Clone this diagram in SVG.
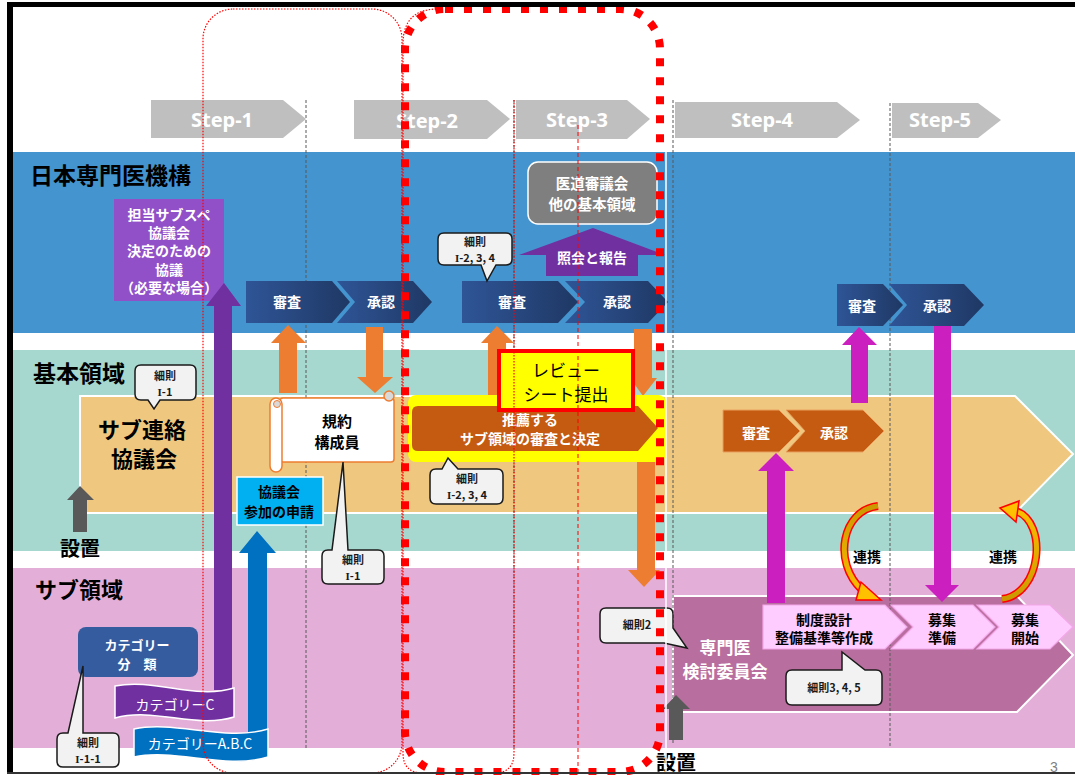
<svg xmlns="http://www.w3.org/2000/svg" width="1075" height="775" viewBox="0 0 1075 775">
<defs>
<linearGradient id="gb" x1="0" y1="0" x2="1" y2="0"><stop offset="0" stop-color="#2f5597"/><stop offset="1" stop-color="#1f3864"/></linearGradient>
<linearGradient id="gy1" gradientUnits="userSpaceOnUse" x1="0" y1="500" x2="0" y2="600"><stop offset="0" stop-color="#c89600"/><stop offset="1" stop-color="#ffc000"/></linearGradient>
<linearGradient id="gy2" gradientUnits="userSpaceOnUse" x1="0" y1="605" x2="0" y2="505"><stop offset="0" stop-color="#c89600"/><stop offset="1" stop-color="#ffc000"/></linearGradient>
<style>
.t{font-family:"Noto Sans CJK JP","Noto Sans",sans-serif;font-weight:700;text-anchor:middle}
.w{fill:#fff}.k{fill:#000}.d{fill:#1a1a1a}
.s{font-size:14px}.c{font-size:11px}
.rn{font-family:"Liberation Serif",serif;font-weight:700}
.step{fill:#bfbfbf}
.stxt{font-family:"Noto Sans","Open Sans",sans-serif;font-weight:700;font-size:20px;fill:#fff;text-anchor:middle}
.db{fill:url(#gb)}
.br{fill:#c55a11;stroke:#e8a060;stroke-width:1}
.pk{fill:#ffccff;stroke:#f3a6e8;stroke-width:1.2}
.co{fill:#f2f2f2;stroke:#1a1a1a;stroke-width:1.5}
.or{fill:#ed7d31}.mg{fill:#cc1fbf}
.gd{stroke:#595959;stroke-width:1;stroke-dasharray:3 2;fill:none}
</style>
</defs>
<rect x="0" y="0" width="1075" height="775" fill="#fff"/>
<g id="bands">
<rect x="13" y="152" width="1062" height="181" fill="#4494cf"/>
<rect x="13" y="350" width="1062" height="201" fill="#a6d8cf"/>
<rect x="13" y="568" width="1062" height="180" fill="#e3afd8"/>
<polygon points="80,396 1015,396 1073,454 1015,513 80,513" fill="#efc77f" stroke="#fff" stroke-width="2"/>
<polygon points="673,596 1017,596 1073,655 1017,712 673,712" fill="#b86e9e" stroke="#fff" stroke-width="2"/>
</g>
<g id="gridlines">
<line class="gd" x1="306" y1="100" x2="306" y2="748"/>
<line class="gd" x1="514" y1="100" x2="514" y2="748"/>
<line class="gd" x1="673" y1="100" x2="673" y2="745"/>
<line class="gd" x1="890" y1="103" x2="890" y2="748"/>
</g>
<g id="steps">
<polygon class="step" points="151,100 283,100 306,119 283,138 151,138"/>
<text class="stxt" x="222" y="127">Step-1</text>
<polygon class="step" points="354,100 487,100 510,119 487,139 354,139"/>
<text class="stxt" x="427" y="128">Step-2</text>
<polygon class="step" points="516,100 627,100 650,119 627,139 516,139"/>
<text class="stxt" x="577" y="127">Step-3</text>
<polygon class="step" points="675,102 837,102 860,120 837,138 675,138"/>
<text class="stxt" x="762" y="127">Step-4</text>
<polygon class="step" points="892,103 978,103 1001,120 978,138 892,138"/>
<text class="stxt" x="940" y="127">Step-5</text>
</g>
<g id="labels">
<text class="t k" x="30" y="184" style="text-anchor:start;font-size:23px">日本専門医機構</text>
<text class="t k" x="33" y="382" style="text-anchor:start;font-size:23px">基本領域</text>
<text class="t k" x="35" y="598" style="text-anchor:start;font-size:22px">サブ領域</text>
<text class="t k" x="80" y="556" style="font-size:20px">設置</text>
<text class="t k" x="676" y="770" style="font-size:20px">設置</text>
<text x="1050" y="772" style="font-family:'Liberation Sans',sans-serif;font-size:14px;fill:#7f7f7f">3</text>
</g>
<g id="node-sentei">
<rect x="114" y="199" width="110" height="102" fill="#9150c8"/>
<text class="t w s" x="169" y="220">担当サブスペ</text>
<text class="t w s" x="169" y="238">協議会</text>
<text class="t w s" x="169" y="256">決定のための</text>
<text class="t w s" x="169" y="275">協議</text>
<text class="t w s" x="169" y="293">（必要な場合）</text>
</g>
<g id="connectors">
<polygon fill="#7030a0" points="214,690 214,306 206,306 224,283 241,306 232,306 232,690"/>
<polygon fill="#0070c0" points="248,745 248,553 239,553 257,531 276,553 267,553 267,745"/>
<polygon class="or" points="279,393 279,343 271,343 288,325 306,343 297,343 297,393"/>
<polygon class="or" points="366,327 383,327 383,377 393,377 375,393 357,377 366,377"/>
<polygon class="or" points="488,400 488,343 481,343 497,326 514,343 506,343 506,400"/>
<polygon class="or" points="634,329 652,329 652,378 657,378 643,396 630,378 634,378"/>
<polygon class="or" points="637,455 655,455 655,570 660,570 644,587 628,570 637,570"/>
<polygon class="mg" points="767,603 767,471 758,471 776,453 794,471 785,471 785,603"/>
<polygon class="mg" points="851,403 851,345 842,345 859,327 877,345 868,345 868,403"/>
<polygon class="mg" points="934,326 951,326 951,585 959,585 942,602 925,585 934,585"/>
<polygon fill="#595959" points="73,532 73,500 67,500 80,486 94,500 87,500 87,532"/>
<polygon fill="#595959" points="669,740 669,709 663,709 676,695 690,709 683,709 683,740"/>
</g>
<g id="node-shinsa1"><polygon class="db" points="246,281 332,281 350,302 332,323 246,323"/><text class="t w s" x="287" y="307">審査</text></g>
<g id="node-shonin1"><polygon class="db" points="337,281 413,281 432,302 413,323 337,323 355,302"/><text class="t w s" x="381" y="307">承認</text></g>
<g id="node-shinsa2"><polygon class="db" points="462,281 558,281 578,302 558,323 462,323"/><text class="t w s" x="512" y="307">審査</text></g>
<g id="node-shonin2"><polygon class="db" points="565,281 648,281 668,302 648,323 565,323 585,302"/><text class="t w s" x="617" y="307">承認</text></g>
<g id="node-shinsa3"><polygon class="db" points="837,284 883,284 903,305 883,326 837,326"/><text class="t w s" x="862" y="311">審査</text></g>
<g id="node-shonin3"><polygon class="db" points="889,284 964,284 984,305 964,326 889,326 907,305"/><text class="t w s" x="937" y="311">承認</text></g>
<g id="node-idou">
<rect x="528" y="162" width="129" height="62" rx="10" fill="#7f7f7f" stroke="#fff" stroke-width="1.5"/>
<text class="t w" x="592" y="189" style="font-size:14.5px">医道審議会</text>
<text class="t w" x="592" y="210" style="font-size:14.5px">他の基本領域</text>
</g>
<g id="node-shokai">
<polygon fill="#7030a0" points="546,276 546,255 519,255 593,228 665,255 638,255 638,276"/>
<text class="t w s" x="592" y="263">照会と報告</text>
</g>
<g id="node-subrenraku">
<text class="t k" x="142" y="438" style="font-size:22px">サブ連絡</text>
<text class="t k" x="144" y="467" style="font-size:22px">協議会</text>
</g>
<g id="node-kiyaku">
<rect x="280" y="398" width="114" height="64" rx="3" fill="#fff" stroke="#ed7d31" stroke-width="1.5"/>
<path d="M270,404 a6,6 0 0 1 12,0 V466 a6,6 0 0 1 -12,0 Z" fill="#fff" stroke="#ed7d31" stroke-width="1.5"/>
<circle cx="277" cy="404" r="3.5" fill="#d9d9d9" stroke="#ed7d31" stroke-width="1"/>
<circle cx="389" cy="396" r="5" fill="#d9d9d9" stroke="#ed7d31" stroke-width="1.5"/>
<text class="t k" x="337" y="427" style="font-size:15px">規約</text>
<text class="t k" x="337" y="448" style="font-size:15px">構成員</text>
</g>
<g id="node-shinsei">
<rect x="237" y="477" width="86" height="48" fill="#00b0f0" stroke="#fff" stroke-width="1.5"/>
<text class="t k s" x="279" y="497">協議会</text>
<text class="t k s" x="279" y="517">参加の申請</text>
</g>
<g id="node-suisen">
<rect x="408" y="395" width="258" height="67" rx="8" fill="#ffff00"/>
<path d="M418,406 H638 L658,428 L638,451 H418 Q412,451 412,445 V412 Q412,406 418,406 Z" fill="#c55a11"/>
<text class="t w s" x="530" y="425">推薦する</text>
<text class="t w s" x="530" y="444">サブ領域の審査と決定</text>
</g>
<g id="node-review">
<rect x="499" y="351" width="134" height="59" fill="#ffff00" stroke="#ff0000" stroke-width="4"/>
<text class="t k" x="566" y="377" style="font-size:17px;font-weight:400">レビュー</text>
<text class="t k" x="566" y="401" style="font-size:17px;font-weight:400">シート提出</text>
</g>
<g id="node-shinsa4"><polygon class="br" points="723,410 779,410 800,431 779,452 723,452"/><text class="t w s" x="756" y="438">審査</text></g>
<g id="node-shonin4"><polygon class="br" points="786,410 863,410 884,431 863,452 786,452 805,431"/><text class="t w s" x="834" y="438">承認</text></g>
<g id="node-category">
<rect x="78" y="627" width="120" height="50" rx="8" fill="#355c9e"/>
<text class="t w" x="137" y="650" style="font-size:13px">カテゴリー</text>
<text class="t w" x="137" y="669" style="font-size:13px">分　類</text>
</g>
<g id="node-catC">
<path d="M115,686 C155,678 195,700 234,688 L234,717 C195,729 155,707 115,718 Z" fill="#7030a0" stroke="#fff" stroke-width="1.5"/>
<text class="t w" x="175" y="710" style="font-size:14px;font-weight:400">カテゴリーC</text>
</g>
<g id="node-catABC">
<path d="M134,729 C175,720 225,742 268,729 L268,757 C225,770 175,748 134,757 Z" fill="#0070c0" stroke="#fff" stroke-width="1.5"/>
<text class="t w" x="200" y="749" style="font-size:14px;font-weight:400">カテゴリーA.B.C</text>
</g>
<g id="node-senmon">
<text class="t w" x="725" y="654" style="font-size:17px">専門医</text>
<text class="t w" x="725" y="678" style="font-size:17px">検討委員会</text>
</g>
<g id="node-seido"><polygon class="pk" points="763,605 885,605 907,627 885,649 763,649"/><text class="t k s" x="824" y="625">制度設計</text><text class="t k s" x="824" y="643">整備基準等作成</text></g>
<g id="node-junbi"><polygon class="pk" points="891,605 973,605 995,627 973,649 891,649 913,627"/><text class="t k s" x="942" y="625">募集</text><text class="t k s" x="942" y="643">準備</text></g>
<g id="node-kaishi"><polygon class="pk" points="977,605 1050,605 1073,627 1050,649 977,649 999,627"/><text class="t k s" x="1025" y="625">募集</text><text class="t k s" x="1025" y="643">開始</text></g>
<g id="node-renkei1">
<path d="M878,506 C842,510 832,562 862,590" fill="none" stroke="#ff0000" stroke-width="8"/>
<path d="M878,506 C842,510 832,562 862,590" fill="none" stroke="url(#gy1)" stroke-width="5"/>
<polygon points="881,600 861,582 856,600" fill="#ffc000" stroke="#ff0000" stroke-width="1.5"/>
<text class="t k s" x="867" y="562">連携</text>
</g>
<g id="node-renkei2">
<path d="M1002,599 C1042,594 1048,522 1016,511" fill="none" stroke="#ff0000" stroke-width="8"/>
<path d="M1002,599 C1042,594 1048,522 1016,511" fill="none" stroke="url(#gy2)" stroke-width="5"/>
<polygon points="1000,508 1019,501 1016,522" fill="#ffc000" stroke="#ff0000" stroke-width="1.5"/>
<text class="t k s" x="1003" y="562">連携</text>
</g>
<g id="callouts">
<path class="co" d="M444,233 H506 Q512,233 512,239 V259 Q512,265 506,265 H496 L487,281 L481,265 H444 Q438,265 438,259 V239 Q438,233 444,233 Z"/>
<text class="t d c" x="475" y="246">細則</text><text class="t d c" x="475" y="262"><tspan class="rn">I</tspan>-2, 3, 4</text>
<path class="co" d="M141,365 H190 Q196,365 196,371 V394 Q196,400 190,400 H160 L154,409 L148,400 H141 Q135,400 135,394 V371 Q135,365 141,365 Z"/>
<text class="t d c" x="165" y="380">細則</text><text class="t d c" x="165" y="396"><tspan class="rn">I</tspan>-1</text>
<path class="co" d="M328,550 H332 L343,462 L348,550 H378 Q384,550 384,556 V578 Q384,584 378,584 H328 Q322,584 322,578 V556 Q322,550 328,550 Z"/>
<text class="t d c" x="353" y="564">細則</text><text class="t d c" x="353" y="580"><tspan class="rn">I</tspan>-1</text>
<path class="co" d="M436,469 H442 L448,458 L458,469 H497 Q503,469 503,475 V498 Q503,504 497,504 H436 Q430,504 430,498 V475 Q430,469 436,469 Z"/>
<text class="t d c" x="467" y="483">細則</text><text class="t d c" x="467" y="499"><tspan class="rn">I</tspan>-2, 3, 4</text>
<path class="co" d="M63,733 H68 L83,666 L83,733 H113 Q119,733 119,739 V761 Q119,767 113,767 H63 Q57,767 57,761 V739 Q57,733 63,733 Z"/>
<text class="t d c" x="88" y="747">細則</text><text class="t d c" x="88" y="763"><tspan class="rn">I</tspan>-1-1</text>
<path class="co" d="M606,608 H667 Q673,608 673,614 V628 L687,648 L664,643 H606 Q600,643 600,637 V614 Q600,608 606,608 Z"/>
<text class="t d c" x="637" y="629">細則2</text>
<path class="co" d="M792,670 H842 V652 L865,670 H876 Q882,670 882,676 V699 Q882,705 876,705 H792 Q786,705 786,699 V676 Q786,670 792,670 Z"/>
<text class="t d c" x="834" y="692">細則3, 4, 5</text>
</g>
<g id="overlay">
<line x1="666" y1="152" x2="666" y2="775" stroke="#fff" stroke-width="1.5"/>
<rect x="203" y="9" width="199" height="764" rx="30" fill="none" stroke="#ff0000" stroke-width="1.2" stroke-dasharray="1.5 1.5"/>
<path d="M514,100 V753 Q514,773 494,773 H423 Q403,773 403,753 V44 Q403,9 438,9" fill="none" stroke="#ff0000" stroke-width="1.2" stroke-dasharray="1.5 1.5"/>
<line x1="578" y1="125" x2="578" y2="773" stroke="#ff0000" stroke-width="1" stroke-dasharray="4 3"/>
<rect x="405" y="9" width="255" height="763" rx="40" fill="none" stroke="#ff0000" stroke-width="8" stroke-dasharray="8 11"/>
</g>
<g id="frame">
<rect x="7" y="2" width="1068" height="5" fill="#000"/>
<rect x="7" y="2" width="6" height="772" fill="#000"/>
<rect x="7" y="772" width="1068" height="2" fill="#333"/>
</g>
</svg>
